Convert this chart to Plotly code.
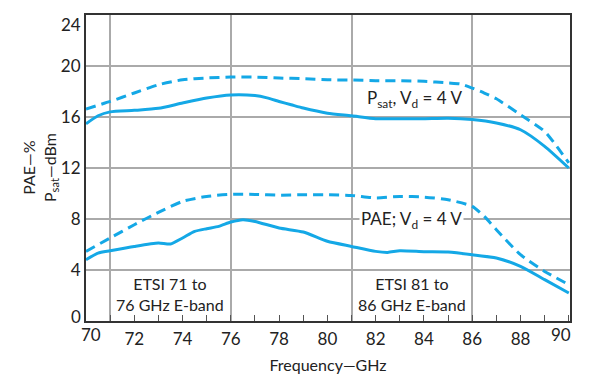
import plotly.graph_objects as go

freq = [70, 70.5, 71, 72, 73, 74, 75, 76, 77, 77.5, 78, 78.5, 79, 80, 81, 82, 83, 84, 85, 86, 87, 88, 89, 90]
psat_solid = [15.47, 16.1, 16.4, 16.52, 16.68, 17.1, 17.49, 17.73, 17.68, 17.5, 17.22, 16.96, 16.7, 16.3, 16.1, 15.87, 15.87, 15.87, 15.9, 15.8, 15.53, 15.0, 13.7, 12.0]

freq_d = [70, 71, 72, 73, 74, 75, 76, 77, 78, 79, 80, 81, 82, 83, 84, 85, 85.5, 86, 86.5, 87, 88, 89, 89.5, 90]
psat_dash = [16.63, 17.22, 17.88, 18.53, 18.92, 19.06, 19.13, 19.13, 19.06, 19.0, 18.92, 18.9, 18.85, 18.85, 18.8, 18.67, 18.6, 18.27, 17.88, 17.43, 16.18, 14.87, 13.7, 12.4]

freq_p = [70, 70.5, 71, 72, 73, 73.5, 74, 74.5, 75, 75.5, 76, 76.5, 77, 78, 79, 80, 81, 82, 82.5, 83, 84, 85, 86, 87, 88, 89, 90]
pae_solid = [4.81, 5.33, 5.51, 5.85, 6.12, 6.04, 6.51, 7.03, 7.24, 7.42, 7.76, 7.95, 7.81, 7.29, 6.98, 6.25, 5.85, 5.46, 5.38, 5.51, 5.44, 5.41, 5.2, 4.94, 4.28, 3.24, 2.2]

freq_pd = [70, 71, 72, 73, 74, 75, 76, 77, 78, 79, 80, 81, 82, 83, 84, 85, 86, 86.5, 87, 88, 89, 90]
pae_dash = [5.46, 6.51, 7.55, 8.52, 9.38, 9.77, 9.93, 9.93, 9.87, 9.9, 9.9, 9.85, 9.65, 9.77, 9.72, 9.51, 8.99, 8.2, 7.16, 5.2, 3.89, 2.85]

x_ticks = list(range(70, 91, 2))
x_grid = [71, 76, 81, 86]
y_ticks = [0, 4, 8, 12, 16, 20, 24]
x_range = [70, 90.05]

band_labels = ["ETSI 71 to<br>76 GHz E-band", "ETSI 81 to<br>86 GHz E-band"]
band_centers = [73.5, 83.5]
band_label_y = 2.15

psat_label = "P<sub>sat</sub>, V<sub>d</sub> = 4 V"
pae_label = "PAE; V<sub>d</sub> = 4 V"
y_title = "PAE\u2014%<br>P<sub>sat</sub>\u2014dBm"
x_title = "Frequency\u2014GHz"

COLOR = "#14A8E6"
FONT = "Lato"
TXT = "#222"
TICKFONT = dict(size=17, family=FONT, color=TXT)

fig = go.Figure()
line_solid = dict(color=COLOR, width=3, shape="spline", smoothing=0.6)
line_dash = dict(color=COLOR, width=3, dash="10px,6px", shape="spline", smoothing=0.6)
fig.add_trace(go.Scatter(x=freq_d, y=psat_dash, mode="lines", line=line_dash, showlegend=False, xaxis="x2"))
fig.add_trace(go.Scatter(x=freq, y=psat_solid, mode="lines", line=line_solid, showlegend=False))
fig.add_trace(go.Scatter(x=freq_pd, y=pae_dash, mode="lines", line=line_dash, showlegend=False, xaxis="x2"))
fig.add_trace(go.Scatter(x=freq_p, y=pae_solid, mode="lines", line=line_solid, showlegend=False))

for txt, cx in zip(band_labels, band_centers):
    fig.add_annotation(x=cx, y=band_label_y, text=txt, showarrow=False,
                       font=dict(family=FONT, size=16, color=TXT), align="center")

fig.add_annotation(x=83.6, y=17.45, text=psat_label, showarrow=False,
                   font=dict(family=FONT, size=17, color=TXT))
fig.add_annotation(x=83.5, y=7.95, text=pae_label, showarrow=False, bgcolor="white",
                   font=dict(family=FONT, size=17, color=TXT), borderpad=1)

# end tick labels nudged inward, as in the reference
fig.add_annotation(x=0, xref="paper", y=y_ticks[-1], text=str(y_ticks[-1]), showarrow=False,
                   xanchor="right", yanchor="middle", xshift=-3, yshift=-9, font=TICKFONT)
fig.add_annotation(x=0, xref="paper", y=y_ticks[0], text=str(y_ticks[0]), showarrow=False,
                   xanchor="right", yanchor="middle", xshift=-3, yshift=5, font=TICKFONT)
fig.add_annotation(x=x_ticks[0], y=0, yref="paper", text=str(x_ticks[0]), showarrow=False,
                   xanchor="center", yanchor="middle", xshift=5, yshift=-13, font=TICKFONT)
fig.add_annotation(x=x_ticks[-1], y=0, yref="paper", text=str(x_ticks[-1]), showarrow=False,
                   xanchor="center", yanchor="middle", xshift=-8, yshift=-13, font=TICKFONT)

# y-axis title
fig.add_annotation(x=0, xref="paper", y=0.5, yref="paper", text=y_title, showarrow=False,
                   textangle=-90, xanchor="center", yanchor="middle", xshift=-46,
                   font=dict(size=16, family=FONT, color=TXT))

fig.update_layout(
    width=587, height=376,
    margin=dict(l=78, r=25, t=7, b=63, autoexpand=False),
    plot_bgcolor="white", paper_bgcolor="white",
    font=dict(family=FONT, color=TXT),
    xaxis=dict(
        range=x_range, tickmode="array", tickvals=x_ticks[1:-1], automargin=False,
        ticks="inside", ticklen=6, tickwidth=1.2, tickcolor="#555",
        minor=dict(dtick=1, tick0=70, ticks="inside", ticklen=6, tickwidth=1.2, tickcolor="#555", showgrid=False),
        showgrid=False, zeroline=False, ticklabeloverflow="allow", ticklabelstandoff=2,
        showline=True, linecolor="#333", linewidth=2, mirror=True,
        tickfont=TICKFONT,
        title=dict(text=x_title, font=dict(size=16, family=FONT, color=TXT), standoff=11),
    ),
    xaxis2=dict(
        range=x_range, overlaying="x", matches="x", anchor="y", side="bottom",
        tickmode="array", tickvals=x_grid, showticklabels=False, ticks="",
        showgrid=True, gridcolor="#aaaaaa", gridwidth=1.5, zeroline=False, showline=False,
    ),
    yaxis=dict(
        range=[0, 24], tickmode="array", tickvals=y_ticks[1:-1], automargin=False,
        showgrid=True, gridcolor="#aaaaaa", gridwidth=1.5, zeroline=False,
        ticklabeloverflow="allow",
        ticks="", showline=True, linecolor="#333", linewidth=2, mirror=True,
        tickfont=TICKFONT,
    ),
)

fig.write_html("out.html")
